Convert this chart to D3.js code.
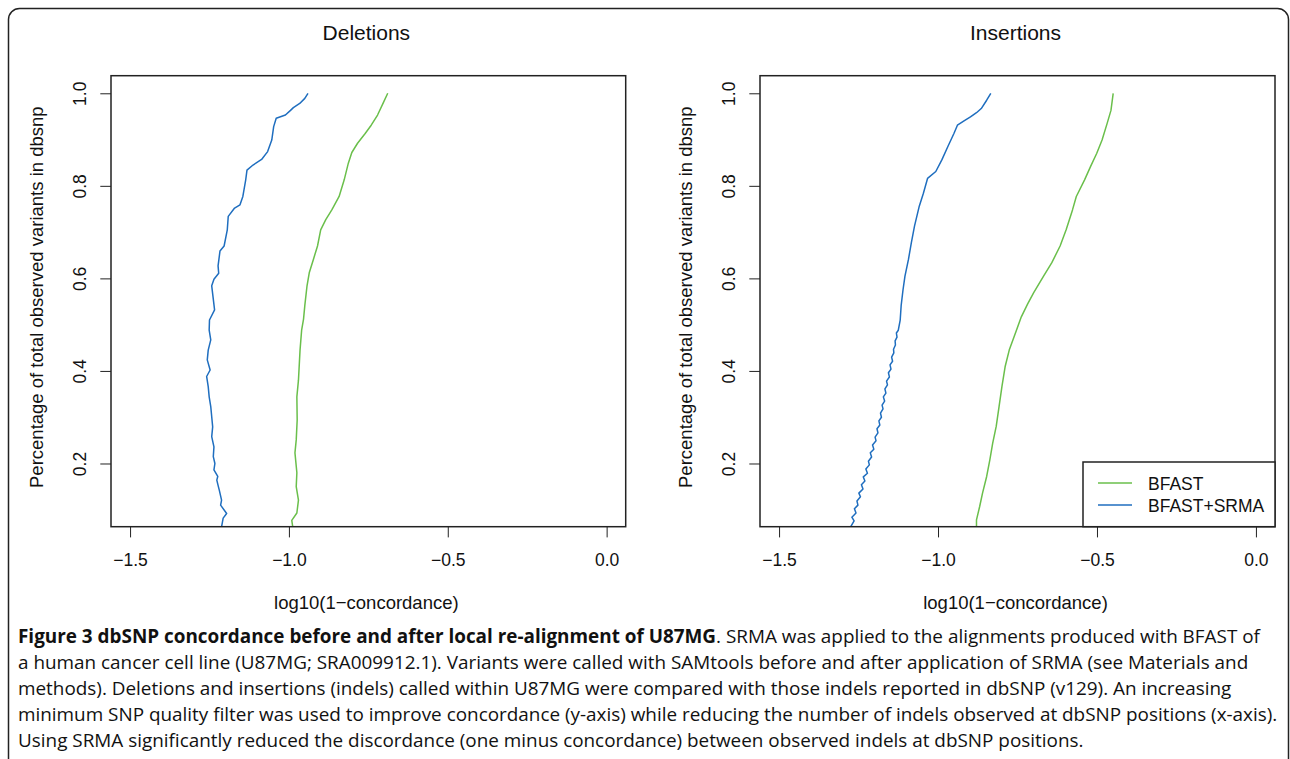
<!DOCTYPE html>
<html>
<head>
<meta charset="utf-8">
<script src="https://cdn.jsdelivr.net/npm/d3@7"></script>
<style>
  body { margin: 0; background: #fff; }
  svg text { fill: #111; }
</style>
</head>
<body>
<div id="chart"></div>
<script>
// ---- data: [log10(1-concordance), fraction of variants] ----
const delBfast = [
  [-0.988, 0.063], [-0.991, 0.077], [-0.975, 0.093], [-0.970, 0.121], [-0.977, 0.150],
  [-0.975, 0.180], [-0.981, 0.223], [-0.977, 0.251], [-0.974, 0.294], [-0.975, 0.344],
  [-0.970, 0.380], [-0.965, 0.445], [-0.960, 0.488], [-0.954, 0.512], [-0.950, 0.541],
  [-0.943, 0.584], [-0.936, 0.612], [-0.923, 0.641], [-0.910, 0.670], [-0.900, 0.705],
  [-0.884, 0.727], [-0.865, 0.748], [-0.842, 0.777], [-0.826, 0.813], [-0.813, 0.849],
  [-0.802, 0.872], [-0.784, 0.892], [-0.760, 0.913], [-0.741, 0.931], [-0.721, 0.953],
  [-0.702, 0.981], [-0.689, 1.000]
];
const delSrma = [
  [-1.212, 0.063], [-1.207, 0.082], [-1.196, 0.092], [-1.215, 0.110], [-1.212, 0.121],
  [-1.219, 0.142], [-1.222, 0.150], [-1.227, 0.164], [-1.224, 0.172], [-1.236, 0.186],
  [-1.233, 0.200], [-1.238, 0.215], [-1.236, 0.236], [-1.243, 0.258], [-1.240, 0.279],
  [-1.243, 0.301], [-1.246, 0.323], [-1.251, 0.344], [-1.254, 0.366], [-1.259, 0.388],
  [-1.248, 0.402], [-1.257, 0.424], [-1.254, 0.445], [-1.246, 0.467], [-1.251, 0.488],
  [-1.250, 0.510], [-1.234, 0.532], [-1.243, 0.584], [-1.236, 0.598], [-1.221, 0.611],
  [-1.223, 0.627], [-1.217, 0.659], [-1.204, 0.670], [-1.194, 0.705], [-1.191, 0.734],
  [-1.171, 0.752], [-1.154, 0.759], [-1.145, 0.777], [-1.136, 0.813], [-1.132, 0.834],
  [-1.113, 0.845], [-1.086, 0.857], [-1.067, 0.874], [-1.054, 0.899], [-1.048, 0.928],
  [-1.040, 0.946], [-1.011, 0.953], [-0.995, 0.963], [-0.986, 0.969], [-0.966, 0.978],
  [-0.950, 0.989], [-0.940, 1.000]
];
const insBfast = [
  [-0.879, 0.064], [-0.879, 0.078], [-0.869, 0.107], [-0.860, 0.136], [-0.847, 0.172],
  [-0.837, 0.208], [-0.828, 0.244], [-0.817, 0.280], [-0.808, 0.323], [-0.799, 0.366],
  [-0.789, 0.409], [-0.776, 0.445], [-0.757, 0.481], [-0.738, 0.517], [-0.718, 0.545],
  [-0.699, 0.569], [-0.668, 0.605], [-0.642, 0.634], [-0.616, 0.670], [-0.597, 0.705],
  [-0.577, 0.748], [-0.565, 0.777], [-0.539, 0.813], [-0.520, 0.842], [-0.501, 0.870],
  [-0.484, 0.899], [-0.468, 0.935], [-0.456, 0.963], [-0.449, 1.000]
];
const insSrma = [
  [-1.275, 0.063], [-1.264, 0.076], [-1.271, 0.084], [-1.258, 0.093], [-1.263, 0.102],
  [-1.252, 0.110], [-1.255, 0.119], [-1.244, 0.128], [-1.249, 0.136], [-1.236, 0.145],
  [-1.241, 0.154], [-1.230, 0.162], [-1.235, 0.171], [-1.222, 0.179], [-1.227, 0.188],
  [-1.216, 0.197], [-1.219, 0.205], [-1.209, 0.214], [-1.213, 0.223], [-1.202, 0.231],
  [-1.206, 0.240], [-1.195, 0.249], [-1.198, 0.257], [-1.189, 0.266], [-1.192, 0.275],
  [-1.183, 0.283], [-1.186, 0.292], [-1.178, 0.300], [-1.181, 0.309], [-1.173, 0.318],
  [-1.176, 0.326], [-1.168, 0.335], [-1.172, 0.344], [-1.164, 0.352], [-1.167, 0.361],
  [-1.159, 0.370], [-1.162, 0.378], [-1.153, 0.387], [-1.156, 0.396], [-1.148, 0.404],
  [-1.151, 0.413], [-1.143, 0.421], [-1.146, 0.430], [-1.139, 0.439], [-1.140, 0.447],
  [-1.134, 0.456], [-1.135, 0.465], [-1.129, 0.473], [-1.131, 0.482], [-1.125, 0.488],
  [-1.119, 0.510], [-1.116, 0.541], [-1.110, 0.576], [-1.104, 0.605], [-1.093, 0.641],
  [-1.084, 0.677], [-1.074, 0.713], [-1.059, 0.756], [-1.046, 0.784], [-1.033, 0.816],
  [-1.007, 0.831], [-0.988, 0.856], [-0.969, 0.885], [-0.950, 0.913], [-0.939, 0.931],
  [-0.917, 0.941], [-0.898, 0.949], [-0.879, 0.958], [-0.864, 0.967], [-0.847, 0.985],
  [-0.834, 1.000]
];

const panelTitles = ["Deletions", "Insertions"];
const seriesNames = ["BFAST", "BFAST+SRMA"];
const seriesColors = ["#6abf4b", "#1f6ebf"];
const xTicks = [-1.5, -1.0, -0.5, 0.0];
const yTicks = [0.2, 0.4, 0.6, 0.8, 1.0];
const xLabel = "log10(1\u2212concordance)";
const yLabel = "Percentage of total observed variants in dbsnp";
const captionBold = "Figure 3 dbSNP concordance before and after local re-alignment of U87MG";
const captionLines = [
  ". SRMA was applied to the alignments produced with BFAST of",
  "a human cancer cell line (U87MG; SRA009912.1). Variants were called with SAMtools before and after application of SRMA (see Materials and",
  "methods). Deletions and insertions (indels) called within U87MG were compared with those indels reported in dbSNP (v129). An increasing",
  "minimum SNP quality filter was used to improve concordance (y-axis) while reducing the number of indels observed at dbSNP positions (x-axis).",
  "Using SRMA significantly reduced the discordance (one minus concordance) between observed indels at dbSNP positions."
];

const panelData = [[delBfast, delSrma], [insBfast, insSrma]];

const W = 1290, H = 759;
const plotTop = 75.7, plotBottom = 526.7;
const panels = [{ left: 111, right: 625.7 }, { left: 760, right: 1275 }];
const axisFont = "'Liberation Sans', Arial, Helvetica, sans-serif";

const svg = d3.select("#chart").append("svg")
  .attr("width", W).attr("height", H);

// outer figure frame
svg.append("rect")
  .attr("x", 8.5).attr("y", 8.5)
  .attr("width", 1280).attr("height", 820)
  .attr("rx", 11)
  .attr("fill", "none")
  .attr("stroke", "#222")
  .attr("stroke-width", 1.5);

const fmt = d3.format(".1f");

panels.forEach((p, pi) => {
  const x = d3.scaleLinear().domain([-1.56, 0.06]).range([p.left, p.right]);
  const y = d3.scaleLinear().domain([0.0634, 1.038]).range([plotBottom, plotTop]);

  const g = svg.append("g");

  g.append("clipPath").attr("id", "clip" + pi)
    .append("rect")
    .attr("x", p.left).attr("y", plotTop)
    .attr("width", p.right - p.left).attr("height", plotBottom - plotTop);

  const line = d3.line().x(d => x(d[0])).y(d => y(d[1]));

  panelData[pi].forEach((s, si) => {
    g.append("path")
      .datum(s)
      .attr("clip-path", `url(#clip${pi})`)
      .attr("d", line)
      .attr("fill", "none")
      .attr("stroke", seriesColors[si])
      .attr("stroke-width", 1.5)
      .attr("stroke-linejoin", "round");
  });

  // x axis
  const xa = g.append("g")
    .attr("transform", `translate(0,${plotBottom})`)
    .call(d3.axisBottom(x).tickValues(xTicks).tickFormat(fmt).tickSize(10.7));
  xa.select(".domain").remove();
  xa.selectAll("line").attr("stroke", "#222").attr("stroke-width", 1);
  xa.selectAll("text")
    .attr("y", 39.5).attr("dy", 0)
    .style("font-family", axisFont).style("font-size", "17.5px").attr("fill", "#111");

  // y axis, labels rotated like base R
  const ya = g.append("g")
    .attr("transform", `translate(${p.left},0)`)
    .call(d3.axisLeft(y).tickValues(yTicks).tickFormat(fmt).tickSize(10.7));
  ya.select(".domain").remove();
  ya.selectAll("line").attr("stroke", "#222").attr("stroke-width", 1);
  ya.selectAll("text")
    .attr("x", 0).attr("dy", 0)
    .attr("transform", "translate(-25,0) rotate(-90)")
    .attr("text-anchor", "middle")
    .style("font-family", axisFont).style("font-size", "17.5px").attr("fill", "#111");

  // plot box
  g.append("rect")
    .attr("x", p.left).attr("y", plotTop)
    .attr("width", p.right - p.left).attr("height", plotBottom - plotTop)
    .attr("fill", "none").attr("stroke", "#222").attr("stroke-width", 1.5);

  const cx = (p.left + p.right) / 2 - 2;
  g.append("text")
    .attr("x", cx).attr("y", 40)
    .attr("text-anchor", "middle")
    .style("font-family", axisFont).style("font-size", "21px")
    .text(panelTitles[pi]);

  g.append("text")
    .attr("x", cx).attr("y", 609)
    .attr("text-anchor", "middle")
    .style("font-family", axisFont).style("font-size", "18.5px")
    .text(xLabel);

  g.append("text")
    .attr("transform", `translate(${p.left - 68},${(plotTop + plotBottom) / 2 - 4}) rotate(-90)`)
    .attr("text-anchor", "middle")
    .style("font-family", axisFont).style("font-size", "18.5px")
    .text(yLabel);

  if (pi === 1) {
    const lg = g.append("g");
    lg.append("rect")
      .attr("x", 1083).attr("y", 462)
      .attr("width", p.right - 1083).attr("height", plotBottom - 462)
      .attr("fill", "#fff").attr("stroke", "#222").attr("stroke-width", 1.5);
    seriesNames.forEach((name, i) => {
      const ly = 483 + i * 22;
      lg.append("line")
        .attr("x1", 1098).attr("x2", 1132)
        .attr("y1", ly).attr("y2", ly)
        .attr("stroke", seriesColors[i]).attr("stroke-width", 1.5);
      lg.append("text")
        .attr("x", 1148).attr("y", ly + 6.5)
        .style("font-family", axisFont).style("font-size", "17.5px")
        .text(name);
    });
  }
});

// caption
const capFont = "'Open Sans', 'Noto Sans', sans-serif";
const cap = svg.append("g").style("font-family", capFont).attr("fill", "#111");
const capTexts = captionLines.map((t, i) => {
  const txt = cap.append("text").attr("x", 18).attr("y", 643 + i * 26);
  if (i === 0) {
    txt.append("tspan").style("font-weight", "700").text(captionBold);
  }
  txt.append("tspan").text(t);
  return txt;
});
// fit caption size so the widest line ends where the original's does
let capSize = 17;
capTexts.forEach(t => t.style("font-size", capSize + "px"));
const widest = d3.max(capTexts, t => t.node().getComputedTextLength());
capSize = capSize * 1260 / widest;
capTexts.forEach(t => t.style("font-size", capSize.toFixed(2) + "px"));
</script>
</body>
</html>
